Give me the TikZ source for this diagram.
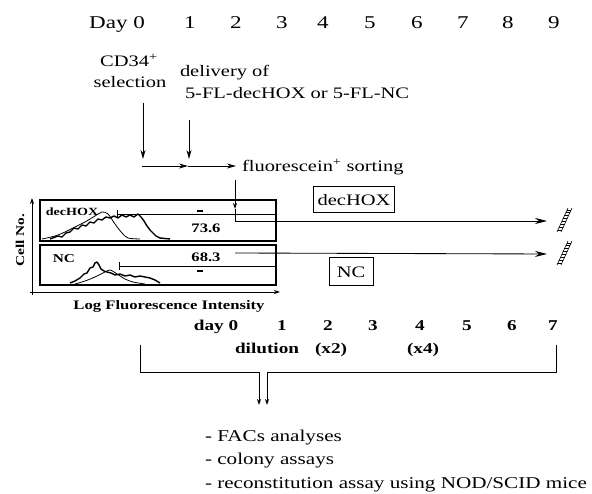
\documentclass[tikz,border=0pt]{standalone}
\usepackage{fontspec}
\setmainfont{Liberation Serif}[FakeStretch=1.28]
\usetikzlibrary{arrows.meta,calc}
\tikzset{
  ln/.style={line width=0.85pt, draw=black},
  arr/.style={ln, -{Stealth[length=9pt,width=5pt]}},
  arrbig/.style={ln, -{Stealth[length=12pt,width=6pt]}},
  arrsmall/.style={ln, -{Stealth[length=6pt,width=4pt]}},
  lbl/.style={font=\fontsize{16}{18}\selectfont},
  dayrow/.style={anchor=base, font=\fontsize{18}{20}\selectfont},
  dayrowb/.style={anchor=base, font=\bfseries\fontsize{15}{17}\selectfont},
  hist/.style={font=\bfseries\fontsize{13}{14}\selectfont},
  panel/.style={draw, line width=1.1pt, anchor=north west, minimum width=236pt, minimum height=41pt, inner sep=0pt},
  tagbox/.style={draw, line width=1pt, font=\fontsize{16}{18}\selectfont, inner xsep=4pt, minimum height=26pt},
  thincurve/.style={line width=0.8pt},
  boldcurve/.style={line width=1.4pt, line join=round},
  brk/.pic={
    \draw[line width=0.6pt] (-7,12) -- (4,-12);
    \draw[line width=0.6pt] (-3,12) -- (8,-12);
    \foreach \t in {0.08,0.2,0.32,0.44,0.56,0.68,0.8,0.92}{
      \draw[line width=0.6pt] ($(-7,12)!\t!(4,-12)$) -- ($(-3,12)!\t!(8,-12)$);
    }
  }
}
\begin{document}
\begin{tikzpicture}[x=1pt,y=-1pt, every node/.style={inner sep=0pt, outer sep=0pt}]
\useasboundingbox[fill=white] (0,0) rectangle (592,494);

% top day row
\node[dayrow] (day0) at (117,29) {Day 0};
\foreach \n/\x in {1/190,2/236,3/282,4/323,5/370,6/417,7/463,8/508,9/554}{
  \node[dayrow] (d\n) at (\x,29) {\n};
}

% labels
\node[lbl, anchor=base] (cd34) at (129,67) {CD34\textsuperscript{+}};
\node[lbl, anchor=base] (sel) at (130,88) {selection};
\node[lbl, anchor=base west] (deliv) at (180,77) {delivery of};
\node[lbl, anchor=base west] (constr) at (185,99) {5-FL-decHOX or 5-FL-NC};

% vertical arrows
\coordinate (a1s) at (143,103);
\coordinate (a1e) at (143,159);
\coordinate (a2s) at (189,120);
\coordinate (a2e) at (189,159);
\draw[arr] (a1s) -- (a1e);
\draw[arr] (a2s) -- (a2e);

% horizontal arrows
\coordinate (h0) at (142,166);
\coordinate (h1) at (188,166);
\coordinate (h2) at (236,166);
\draw[arr] (h0) -- (h1);
\draw[arr] (h1) -- (h2);
\node[lbl, anchor=base west] (sort) at (242,172) {fluorescein\textsuperscript{+} sorting};

% histogram panels
\node[panel] (p1) at (40,200) {};
\node[panel, minimum height=40pt] (p2) at (40,245) {};

% axes
\coordinate (yax0) at (32,295);
\coordinate (yax1) at (32,198);
\coordinate (xax0) at (30,292);
\coordinate (xax1) at (280,292);
\draw[arrsmall] (yax0) -- (yax1);
\draw[arrsmall] (xax0) -- (xax1);
\node[font=\bfseries\fontsize{12}{13}\selectfont, rotate=90] (cellno) at (20,240) {Cell No.};
\node[anchor=base, font=\bfseries\fontsize{13}{14}\selectfont] (logfl) at (169,310) {Log Fluorescence Intensity};

% top histogram curves
\draw[thincurve] plot[smooth] coordinates {(42,239) (55,236) (65,232) (75,227) (85,222) (95,216) (102,212) (108,214) (115,224) (122,233) (128,238) (140,239)};
\draw[boldcurve] plot coordinates {(50,239) (58,236) (62,237) (66,233) (70,232) (74,228) (78,229) (82,225) (86,226) (90,222) (94,223) (98,219) (102,220) (106,217) (110,218) (114,216) (118,218) (122,215) (126,217) (130,215) (134,217) (138,214) (141,217) (144,221) (147,226) (150,230) (153,233) (156,236) (160,238) (170,239)};
% bottom histogram curves
\draw[boldcurve] plot coordinates {(70,283) (75,281) (80,278) (84,274) (87,273) (90,268) (93,267) (95,263) (97,262) (99,265) (101,269) (104,271) (107,272) (111,273) (115,275) (120,274) (125,276) (130,275) (135,277) (140,276) (145,277) (150,278) (155,280) (160,283)};
\draw[thincurve] plot[smooth] coordinates {(75,284) (85,281) (95,277) (103,273) (110,270) (117,274) (125,279) (133,282) (145,284)};

\node[font=\bfseries\fontsize{11}{12}\selectfont] (lab1) at (72,212) {decHOX};
\node[font=\bfseries\fontsize{12}{13}\selectfont] (lab2) at (64,259) {NC};

% gates
\coordinate (g1a) at (117,214);
\coordinate (g1b) at (276,214);
\draw[ln] (g1a) -- (g1b);
\draw[ln] ($(g1a)+(0,-4)$) -- ($(g1a)+(0,4)$);
\coordinate (g2a) at (119,266);
\coordinate (g2b) at (276,266);
\draw[ln] (g2a) -- (g2b);
\draw[ln] ($(g2a)+(0,-4)$) -- ($(g2a)+(0,4)$);
\node[fill=black, minimum width=6pt, minimum height=2.5pt] (m1) at (200,211) {};
\node[fill=black, minimum width=6pt, minimum height=2.5pt] (m2) at (200,271) {};
\node[hist] (v1) at (206,228) {73.6};
\node[hist] (v2) at (206,257) {68.3};

% sorting arrow and culture lines
\coordinate (s0) at (235,180);
\coordinate (s1) at (235,209);
\coordinate (s2) at (235,221);
\coordinate (dEnd) at (547,221);
\draw[arrsmall] (s0) -- (s1);
\draw[arrbig] (s1) -- (s2) -- (dEnd);
\coordinate (n0) at (235,253);
\coordinate (nEnd) at (547,254);
\draw[arrbig] (n0) -- (nEnd);
\pic at (564,220) {brk};
\pic at (564,253) {brk};

\node[tagbox] (dbox) at (354,200) {decHOX};
\node[tagbox, minimum width=44pt, minimum height=28pt] (nbox) at (351,272) {NC};

% second day row
\node[dayrowb] (dd0) at (216,331) {day 0};
\foreach \n/\x in {1/282,2/328,3/373,4/420,5/467,6/512,7/553}{
  \node[dayrowb] (e\n) at (\x,331) {\n};
}
\node[dayrowb, anchor=base west] (dil) at (235,354) {dilution};
\node[dayrowb] (x2) at (331,354) {(x2)};
\node[dayrowb] (x4) at (423,354) {(x4)};

% bracket
\coordinate (bl) at (140,345);
\coordinate (br) at (556,345);
\coordinate (jl) at (259,372);
\coordinate (jr) at (267,372);
\coordinate (el) at (259,405);
\coordinate (er) at (267,405);
\draw[arrsmall] (bl) |- (jl) -- (el);
\draw[arrsmall] (br) |- (jr) -- (er);

% bottom list
\node[font=\fontsize{16.5}{18}\selectfont, anchor=base west] (l1) at (205,441) {- FACs analyses};
\node[font=\fontsize{16.5}{18}\selectfont, anchor=base west] (l2) at (205,464) {- colony assays};
\node[font=\fontsize{16.5}{18}\selectfont, anchor=base west] (l3) at (205,488) {- reconstitution assay using NOD/SCID mice};
\end{tikzpicture}
\end{document}
